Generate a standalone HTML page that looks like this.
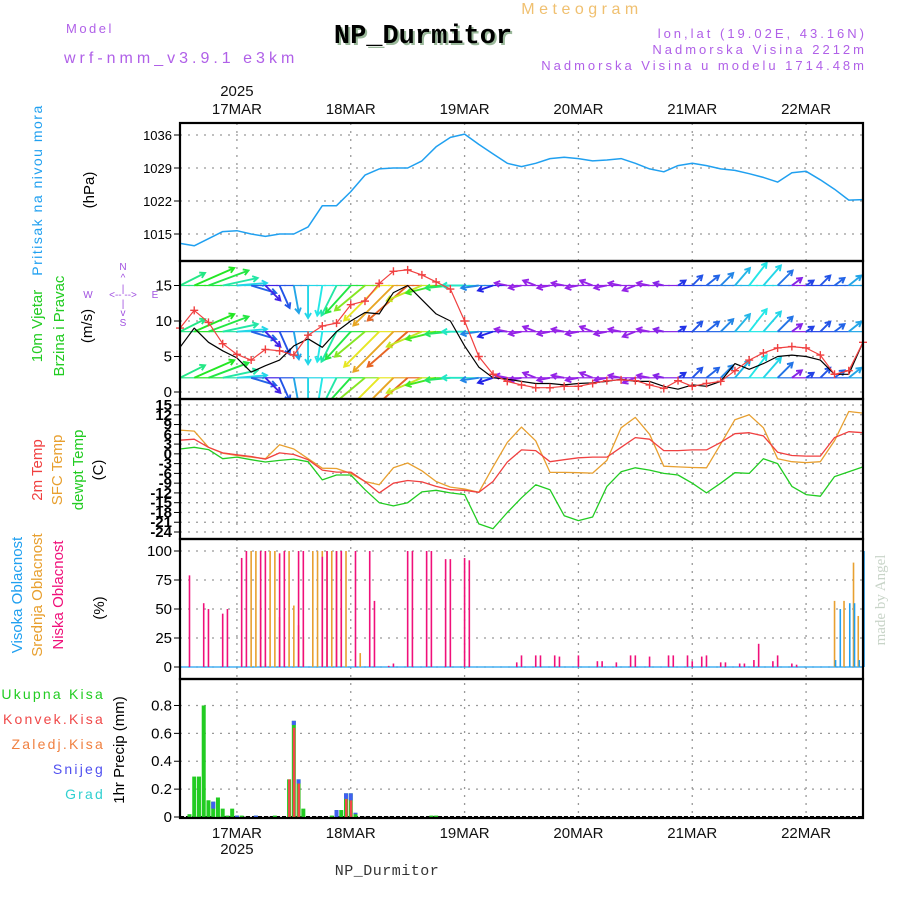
<!DOCTYPE html>
<html><head><meta charset="utf-8"><title>Meteogram NP_Durmitor</title>
<style>
html,body{margin:0;padding:0;background:#fff;}
svg{display:block;font-family:"Liberation Sans",sans-serif;}
</style></head>
<body>
<svg id="chart" width="900" height="900" viewBox="0 0 900 900" xmlns="http://www.w3.org/2000/svg">
<g>
<text x="582" y="14" font-size="16" fill="#f0c070" text-anchor="middle" letter-spacing="4.5">Meteogram</text>
<text x="425" y="45" font-size="27" font-weight="bold" text-anchor="middle" fill="#9ab89a" font-family="Liberation Mono, monospace">NP_Durmitor</text>
<text x="423" y="43" font-size="27" font-weight="bold" text-anchor="middle" fill="#000" font-family="Liberation Mono, monospace">NP_Durmitor</text>
<text x="66" y="33" font-size="13" fill="#b060e8" letter-spacing="2.5">Model</text>
<text x="64" y="63" font-size="16" fill="#b060e8" letter-spacing="4">wrf-nmm_v3.9.1 e3km</text>
<text x="867" y="38" font-size="13" fill="#b060e8" text-anchor="end" letter-spacing="3">lon,lat (19.02E, 43.16N)</text>
<text x="867" y="54" font-size="13" fill="#b060e8" text-anchor="end" letter-spacing="3">Nadmorska Visina 2212m</text>
<text x="867" y="70" font-size="13" fill="#b060e8" text-anchor="end" letter-spacing="3">Nadmorska Visina u modelu 1714.48m</text>
<text x="387" y="875" font-size="15" fill="#333" text-anchor="middle" font-family="Liberation Mono, monospace" letter-spacing="0.5">NP_Durmitor</text>
<text transform="translate(885,600) rotate(-90)" font-size="15" fill="#c8d4c8" text-anchor="middle" font-family="Liberation Serif, serif">made by Angel</text>
</g>
<g font-size="14">
<text transform="translate(42,190) rotate(-90)" fill="#20a0f0" text-anchor="middle" letter-spacing="1.5">Pritisak na nivou mora</text>
<text transform="translate(94,190) rotate(-90)" fill="#000" text-anchor="middle" font-size="15">(hPa)</text>
<text transform="translate(42,326) rotate(-90)" fill="#22cc22" text-anchor="middle" font-size="15">10m Vjetar</text>
<text transform="translate(64,326) rotate(-90)" fill="#22cc22" text-anchor="middle" font-size="15">Brzina i Pravac</text>
<text transform="translate(92,326) rotate(-90)" fill="#000" text-anchor="middle" font-size="15">(m/s)</text>
<g fill="#a050e0" font-size="10" text-anchor="middle">
<text x="123" y="270">N</text><text x="123" y="281">^</text><text x="123" y="292">|</text>
<text x="88" y="298">W</text><text x="123" y="298">&lt;-- --&gt;</text><text x="155" y="298">E</text>
<text x="123" y="307">|</text><text x="123" y="316">v</text><text x="123" y="326">S</text>
</g>
<text transform="translate(42,470) rotate(-90)" fill="#f04040" text-anchor="middle" font-size="15">2m Temp</text>
<text transform="translate(62,470) rotate(-90)" fill="#e8a030" text-anchor="middle" font-size="15">SFC Temp</text>
<text transform="translate(83,470) rotate(-90)" fill="#22cc22" text-anchor="middle" font-size="15">dewpt Temp</text>
<text transform="translate(103,470) rotate(-90)" fill="#000" text-anchor="middle" font-size="15">(C)</text>
<text transform="translate(22,595) rotate(-90)" fill="#20a0f0" text-anchor="middle" font-size="15">Visoka Oblacnost</text>
<text transform="translate(42,595) rotate(-90)" fill="#e8a030" text-anchor="middle" font-size="15">Srednja Oblacnost</text>
<text transform="translate(63,595) rotate(-90)" fill="#f0107a" text-anchor="middle" font-size="15">Niska Oblacnost</text>
<text transform="translate(104,608) rotate(-90)" fill="#000" text-anchor="middle" font-size="15">(%)</text>
<g font-size="14" text-anchor="end" letter-spacing="2.2">
<text x="105" y="699" fill="#22cc22">Ukupna  Kisa</text>
<text x="105" y="724" fill="#f04848">Konvek.Kisa</text>
<text x="105" y="749" fill="#f08040">Zaledj.Kisa</text>
<text x="105" y="774" fill="#5050f0">Snijeg</text>
<text x="105" y="799" fill="#30d0d0">Grad</text>
</g>
<text transform="translate(124,750) rotate(-90)" fill="#000" text-anchor="middle" font-size="15">1hr Precip (mm)</text>
</g>
<g id="grid"></g>
<g id="marks"></g>
<g id="frames"></g>
</svg>
<script>
// ---- data (3-hourly from 16MAR 12Z unless noted) ----
const dayLabels = ["17MAR","18MAR","19MAR","20MAR","21MAR","22MAR"];
const dayHours = [12,36,60,84,108,132];
const pressTicks = [1015,1022,1029,1036];
const windTicks = [0,5,10,15];
const tempTicks = [15,12,9,6,3,0,-3,-6,-9,-12,-15,-18,-21,-24];
const cloudTicks = [0,25,50,75,100];
const precTicks = [0,0.2,0.4,0.6,0.8];
const pressure = [1013,1012.5,1014,1015.5,1015.7,1015,1014.5,1015,1015,1016.5,1021,1021,1024,1027.5,1028.8,1029,1029,1030.5,1033.5,1035.5,1036.2,1034,1032,1030,1029.3,1030,1031,1031.3,1031,1030.5,1030.7,1031,1030,1028.8,1028.2,1029.5,1030,1029.5,1028.8,1028.5,1027.8,1027,1026,1028,1028.3,1026.5,1024.5,1022.2,1022.3];
const windSpeed = [6.3,9.0,7.0,5.8,4.8,2.8,3.7,4.5,6.5,7.5,6.3,8.5,10.0,11.2,11.0,14.0,15.0,13.0,11.0,10.0,6.5,3.5,2.0,1.8,1.5,1.2,1.2,1.0,1.2,1.3,1.5,1.8,1.5,1.5,0.8,0.4,1.0,0.8,1.5,4.0,3.2,4.0,5.0,5.2,5.0,4.5,2.5,2.5,7.0];
const windGust = [9,11.5,9.8,6.8,5.3,4.5,6,5.8,5.2,8,9.3,9.7,12.3,12.8,15.3,17,17.2,16.5,15.5,14.5,10,5,2.5,1.5,1,0.6,0.6,0.8,0.8,1.2,1.6,1.7,1.6,1.0,0.5,1.6,0.8,1.2,1.5,3.0,4.5,5.5,6.2,6.4,6.2,5.2,2.5,3,7];
const windU = [10,16,16,14,12,10,6,4,2,0,-2,-6,-10,-12,-14,-16,-16,-14,-12,-10,-9,-7,-6,-5,-5,-5,-5,-5,-5,-5,-5,-5,-5,-5,-4,3,4,5,5,6,7,7,6,4,3,4,4,5,5];
const windV = [5,7,6,3,1,-3,-6,-9,-11,-13,-12,-12,-11,-10,-14,-16,-14,-6,-3,-1,0,-1,-2,1,-1,2,-1,1,-1,2,-1,1,-2,1,1,2,4,4,5,7,9,8,6,3,2,4,3,4,3];
const windHue = [150,120,130,160,185,220,250,225,200,185,180,160,130,90,60,40,20,70,110,140,170,210,240,275,275,275,275,275,275,275,275,275,275,275,270,235,225,220,210,195,180,185,215,270,230,225,220,200,210];
const windRows = [15,8.5,2];
const tSfc = [7.3,7,2,0.2,-0.5,-1,-1.5,2.8,1.5,-1.5,-4.4,-4.5,-6,-8.5,-9.5,-4.3,-2.8,-5.2,-8.5,-10.2,-10.8,-11.8,-4,3.5,8.2,4,-5.7,-5.7,-5.8,-5.9,-2,8,11.2,6,-3.8,-4,-4.2,-4.3,3,10.5,12,8,-1.5,-2.4,-2.7,-2.4,4,13,12.5];
const t2m = [4.2,4.5,2,0.3,-0.3,-0.8,-1.6,0.3,-0.2,-1.8,-5,-5.6,-5.6,-8.5,-12,-9,-8.2,-8.6,-10,-11,-11.2,-11.8,-8.5,-2.5,1.2,1,-2.4,-1.8,-1.2,-1,-1,2,5,4.5,1,1,1.2,1.2,3.5,6.2,6.5,5.5,0.5,-0.5,-0.7,-0.7,5,6.8,6.5];
const tDew = [1.5,2,1.3,-1.5,-1,-1.8,-2.5,-2,-1.6,-2.4,-8,-6.5,-6.5,-11,-15,-16,-15,-11.7,-11.2,-12,-12.5,-21.5,-23,-18,-13.5,-9.5,-11,-19,-20.5,-19.4,-10,-5.5,-4.3,-5,-6,-6.5,-9,-12,-9,-5.8,-6,-1.5,-3,-10,-12.5,-13,-7,-5.5,-4];
// cloud cover (hourly events: hour index + percent)
const lowHours = [2,5,6,9,10,13,14,17,18,21,22,25,26,30,31,33,34,37,40,41,44,45,48,49,52,53,56,57,60,61,71,72,75,76,79,80,84,88,89,92,95,96,99,103,104,107,108,110,111,114,115,118,119,121,122,125,126,129,130,144];
const lowVals = [79,55,50,46,50,94,100,100,100,98,100,100,100,95,100,100,100,100,100,57,1,3,100,100,100,100,93,93,94,92,4,10,10,10,10,9,10,5,5,4,10,10,9,10,10,10,5,9,10,4,4,3,3,6,20,5,10,3,2,30];
const midHours = [15,16,17,18,19,20,21,23,24,25,26,28,29,30,31,32,33,34,35,38,138,140,142,143];
const midVals = [100,100,58,3,100,100,43,100,53,36,26,100,100,100,100,100,100,100,100,12,57,57,90,44];
const highHours = [138,139,141,142,143,144];
const highVals = [6,50,55,55,6,100];
// hourly precipitation (mm)
const precHours = [2,3,4,5,6,7,8,9,10,11,12,13,16,20,23,24,25,26,32,33,34,35,36,37,53,54];
const precTotal = [0.02,0.29,0.29,0.8,0.12,0.11,0.14,0.06,0.01,0.06,0.01,0.01,0.01,0.01,0.27,0.69,0.27,0.06,0.01,0.05,0.05,0.17,0.17,0.03,0.01,0.01];
const precConv = [0,0,0,0,0,0,0,0,0,0,0,0,0,0,0.27,0.64,0.25,0,0,0,0,0.13,0.12,0,0,0];
const precSnow = [0,0,0,0,0,0.05,0,0,0,0,0.03,0,0.01,0,0,0.03,0.03,0,0,0.05,0,0.04,0.05,0.01,0,0];

// ---- layout ----
const X0=180, X1=863, HMAX=144;
const xs = h => X0 + h*(X1-X0)/HMAX;
const yP = p => 135 + (1036-p)*33/7;
const yW = v => 392 - v*35.5/5;
const yT = t => 405 + (15-t)*127/39;
const yC = c => 667 - c*1.16;
const yR = r => 817 - r*139.4;
const panels = [[123,261],[261,399],[399,539],[539,679],[679,818]];
const NS="http://www.w3.org/2000/svg";
function mk(tag, attrs, parent){const e=document.createElementNS(NS,tag);for(const k in attrs)e.setAttribute(k,attrs[k]);parent.appendChild(e);return e;}
const grid=document.getElementById('grid'), marks=document.getElementById('marks'), frames=document.getElementById('frames');
const DOT={stroke:"#999","stroke-width":1.3,"stroke-dasharray":"2,6"};

dayHours.forEach((h,i)=>{
  const x=xs(h);
  const l=mk('line',Object.assign({x1:x,x2:x,y1:123,y2:818},DOT),grid);
  
  
  const t=mk('text',{x:x,y:114,'font-size':15,'text-anchor':'middle',fill:'#111'},grid);
  t.textContent=dayLabels[i];
  
  
  const b=mk('text',{x:x,y:838,'font-size':15,'text-anchor':'middle',fill:'#111'},grid);
  b.textContent=dayLabels[i];
  
  
});
[[96],[854]].forEach(([y])=>{
  const t=mk('text',{x:xs(dayHours[0]),y:y,'font-size':15,'text-anchor':'middle',fill:'#111'},grid);
  t.textContent='2025';
  
  
});
function hticks(vals,yf,fmt,fs,name,bold){
  vals.forEach(v=>{
    const y=yf(v);
    const l=mk('line',Object.assign({x1:X0,x2:X1,y1:y,y2:y},DOT),grid);
    
    
    const tk=mk('line',{x1:X0-6,x2:X0,y1:y,y2:y,stroke:'#000','stroke-width':1},grid);
    
    
    const t=mk('text',{x:X0-8,y:y+5,'font-size':fs,'text-anchor':'end',fill:'#000','font-weight':bold?'bold':'normal'},grid);
    t.textContent=fmt(v);
    
    
  });
}
hticks(pressTicks,yP,v=>v,13,'pressure');
hticks(windTicks,yW,v=>v,15,'wind');
hticks(tempTicks,yT,v=>v,15,'temp',true);
hticks(cloudTicks,yC,v=>v,15,'cloud');
hticks(precTicks,yR,v=>v===0?'0':v.toFixed(1),15,'precip');

function line(arr,yf,color,name,w){
  const pts=arr.map((v,i)=>xs(i*3).toFixed(1)+','+yf(v).toFixed(1)).join(' ');
  const p=mk('polyline',{points:pts,fill:'none',stroke:color,'stroke-width':w||1.3,'stroke-linejoin':'round'},marks);
  
  
  return p;
}
line(pressure,yP,'#20a0f0','pressure-line',1.5);

const wg=mk('g',{'clip-path':'url(#windclip)'},marks);


const defs=mk('defs',{},document.getElementById('chart'));
const cp=mk('clipPath',{id:'windclip'},defs);
mk('rect',{x:X0,y:261,width:X1-X0,height:138},cp);
const K=2.5;
windRows.forEach(r=>{
  windU.forEach((u,i)=>{
    const x=xs(i*3), y=yW(r), dx=u*K, dy=-windV[i]*K;
    const col='hsl('+windHue[i]+',80%,52%)';
    const len=Math.hypot(dx,dy)||1, ux=dx/len, uy=dy/len;
    const tx=x+dx, ty=y+dy;
    const hx1=tx-ux*5-uy*3, hy1=ty-uy*5+ux*3, hx2=tx-ux*5+uy*3, hy2=ty-uy*5-ux*3;
    const a=mk('path',{d:`M${x},${y}L${tx},${ty}M${hx1},${hy1}L${tx},${ty}L${hx2},${hy2}`,stroke:col,'stroke-width':1.9,fill:'none'},wg);
    
    
    const b=mk('line',{x1:x,y1:y,x2:xs(Math.min(i*3+3,HMAX)),y2:y,stroke:col,'stroke-width':1.2},wg);
    
    
  });
});
line(windSpeed,yW,'#000','wind-speed-line',1.2);
line(windGust,yW,'#f04040','wind-gust-line',1.2);
windGust.forEach((v,i)=>{
  const x=xs(i*3), y=yW(v);
  const m=mk('path',{d:`M${x-4},${y}H${x+4}M${x},${y-4}V${y+4}`,stroke:'#f04040','stroke-width':1.4},marks);
  
  
});

line(tSfc,yT,'#e8a030','sfc-temp-line',1.3);
line(t2m,yT,'#f04040','2m-temp-line',1.3);
line(tDew,yT,'#22cc22','dewpoint-line',1.3);

const zl=mk('line',{x1:X0,x2:X1,y1:yC(0),y2:yC(0),stroke:'#20a0f0','stroke-width':1.2},marks);


function cbars(hours,vals,color,off,name){
  hours.forEach((h,i)=>{
    const x=xs(h)+off;
    const b=mk('line',{x1:x,x2:x,y1:yC(0),y2:yC(vals[i]),stroke:color,'stroke-width':1.6},marks);
    
    
  });
}
cbars(midHours,midVals,'#e8a030',0,'mid-cloud-bar');
cbars(lowHours,lowVals,'#f0107a',0,'low-cloud-bar');
cbars(highHours,highVals,'#20a0f0',1,'high-cloud-bar');

const pz=mk('line',{x1:X0,x2:X1,y1:yR(0),y2:yR(0),stroke:'#000','stroke-width':2,'stroke-dasharray':'4,2'},marks);


precHours.forEach((h,i)=>{
  const x=xs(h)-2, w=4;
  const tot=mk('rect',{x:x,width:w,y:yR(precTotal[i]),height:yR(0)-yR(precTotal[i]),fill:'#22cc22'},marks);
  
  
  if(precConv[i]>0){
    const c=mk('rect',{x:x+1,width:2.5,y:yR(precConv[i]),height:yR(0)-yR(precConv[i]),fill:'#f04848'},marks);
    
    
  }
  if(precSnow[i]>0){
    const top=precTotal[i], bot=Math.max(0,top-precSnow[i]);
    const s=mk('rect',{x:x,width:w,y:yR(top),height:yR(bot)-yR(top),fill:'#4060f0'},marks);
    
    
  }
});

panels.forEach(([a,b])=>{
  const r=mk('rect',{x:X0,y:a,width:X1-X0,height:b-a,fill:'none',stroke:'#000','stroke-width':2.2},frames);
  
  
});
</script>
</body></html>
